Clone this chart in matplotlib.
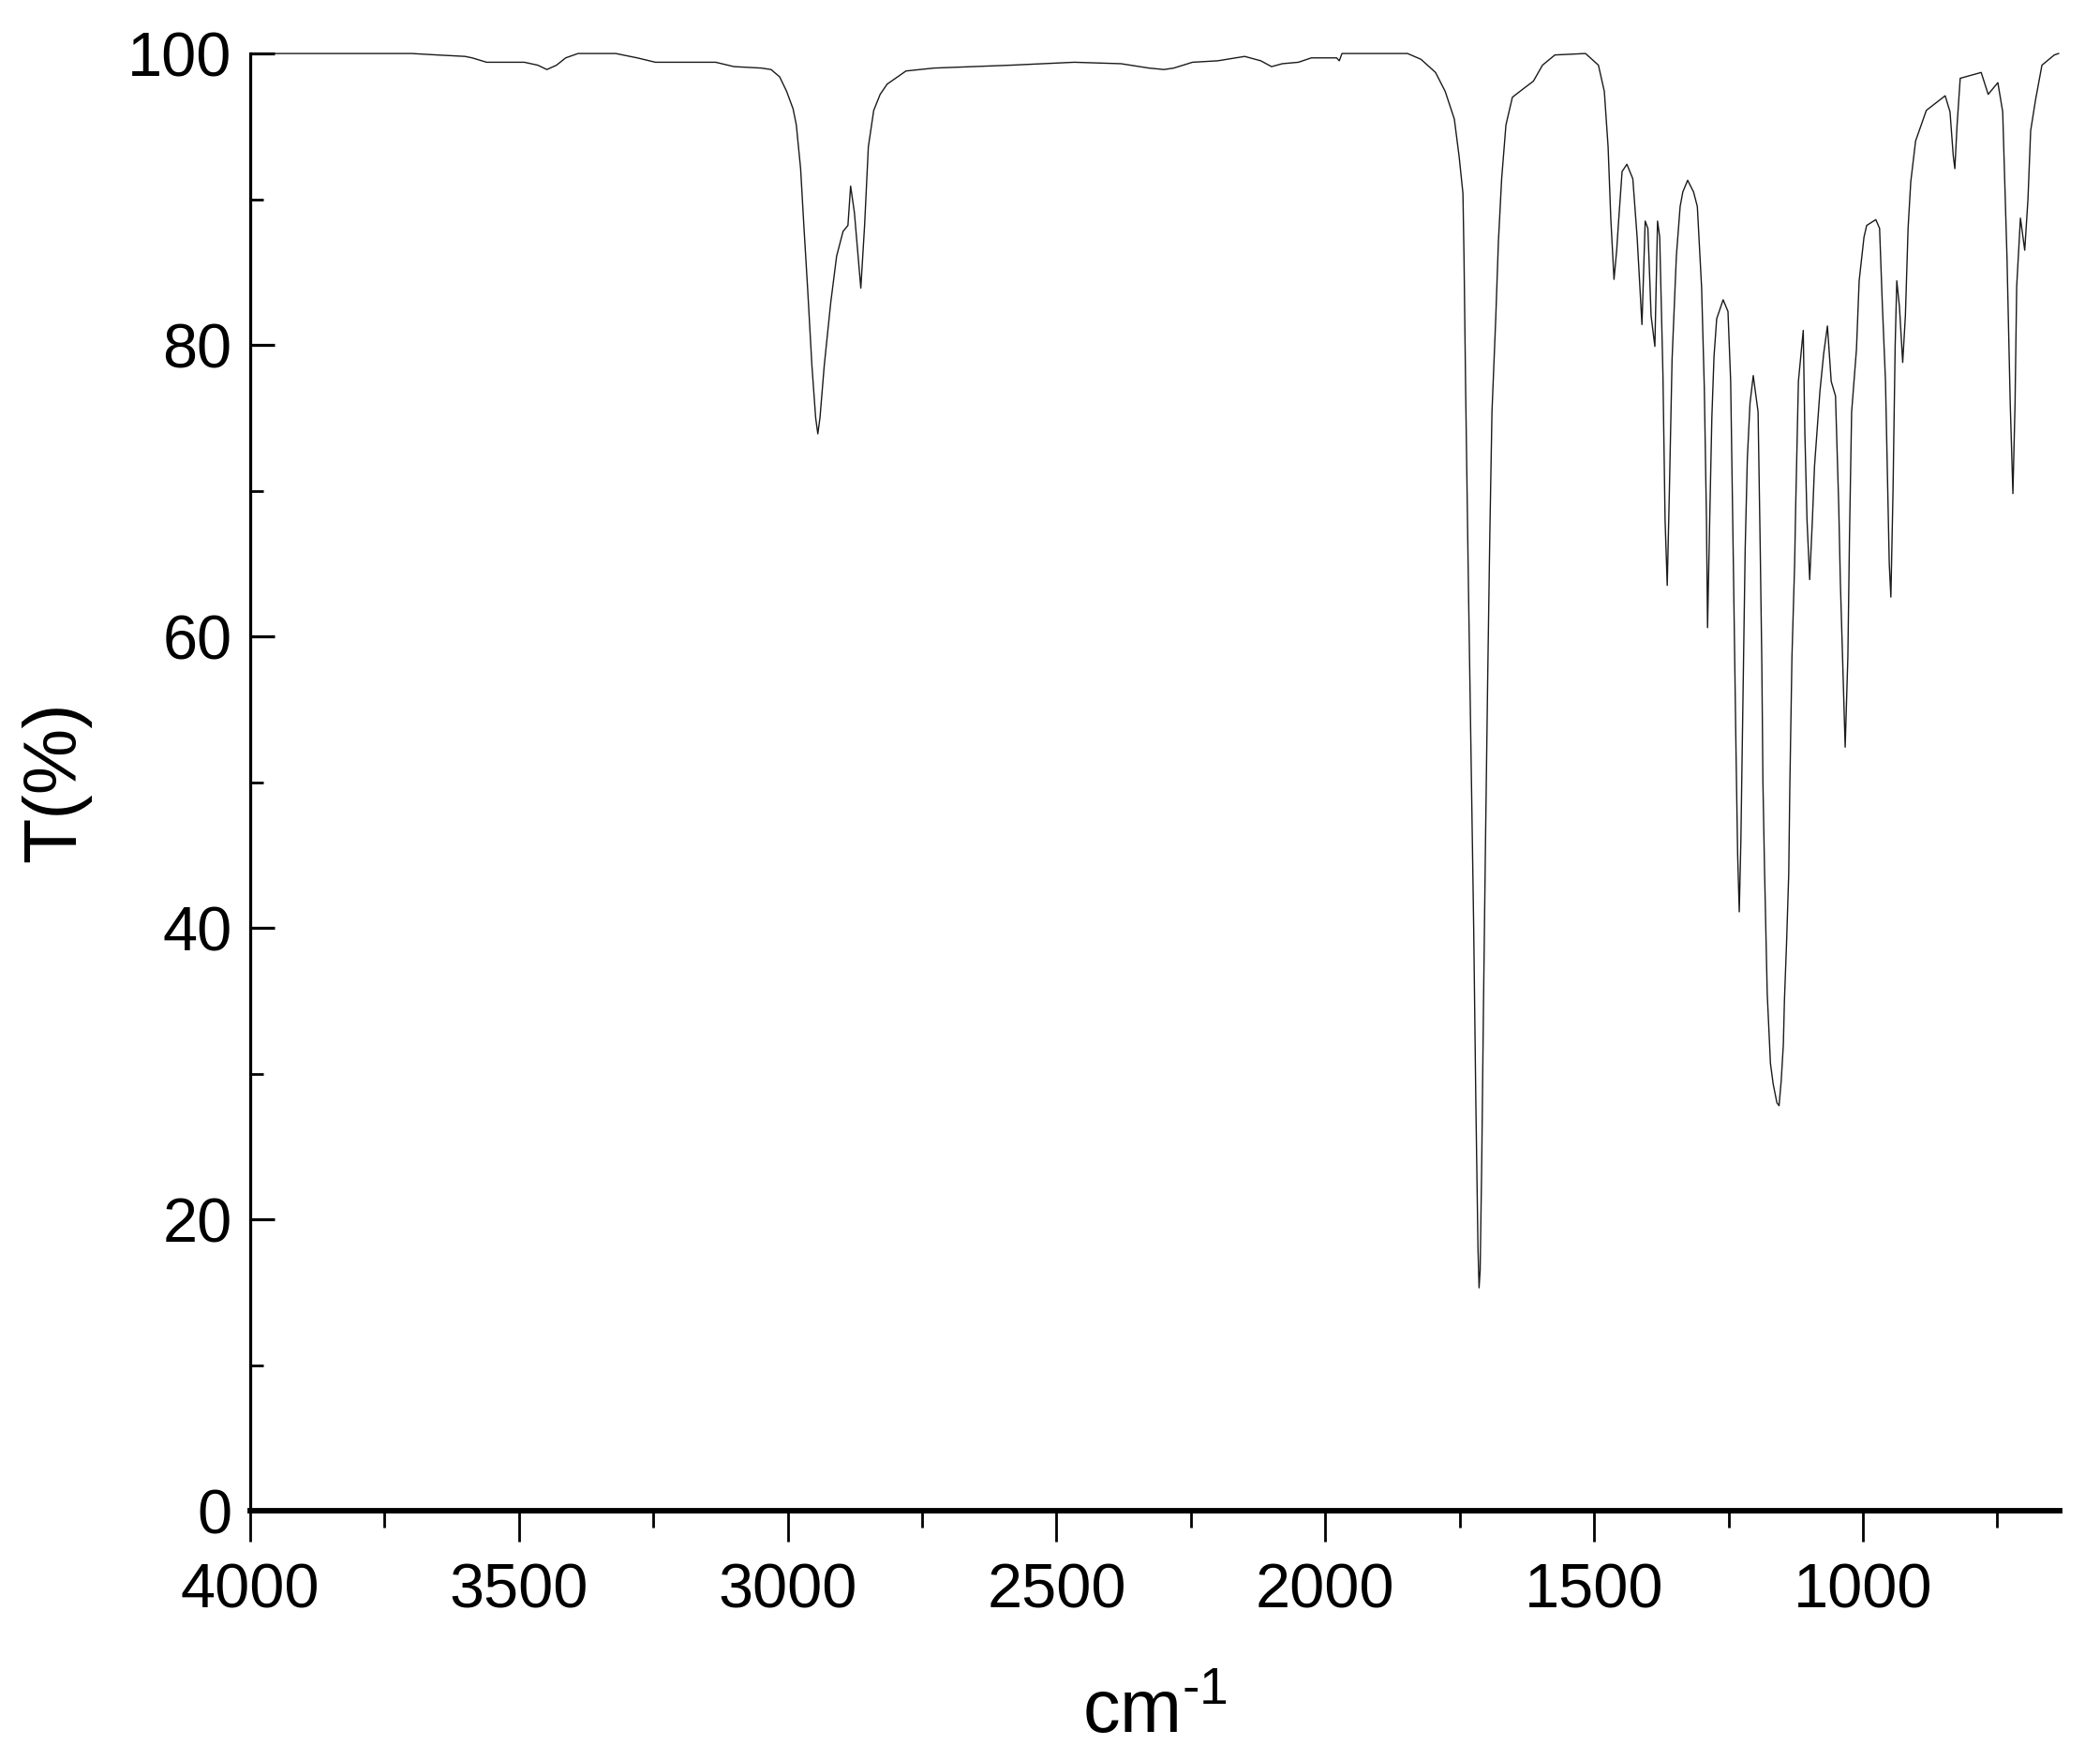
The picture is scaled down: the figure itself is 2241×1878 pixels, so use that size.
import numpy as np
import matplotlib
matplotlib.use("Agg")
import matplotlib.pyplot as plt
from matplotlib.ticker import MultipleLocator, FixedLocator

plt.rcParams['font.family'] = ['Liberation Sans', 'DejaVu Sans']
plt.rcParams['mathtext.fontset'] = 'custom'
plt.rcParams['mathtext.rm'] = 'Liberation Sans'

# FTIR spectrum, points (wavenumber in cm-1, transmittance in %)
wavenumber = [4000, 3700, 3652, 3600, 3587, 3560, 3490, 3465, 3448, 3430, 3413, 3390, 3320, 3280,
              3246, 3134, 3100, 3049, 3031, 3015, 3002, 2990, 2984, 2976, 2970, 2963, 2955, 2948,
              2944, 2940, 2932, 2920, 2909, 2897, 2888, 2883, 2876, 2869, 2864, 2857, 2850, 2840,
              2828, 2815, 2780, 2728, 2584, 2467, 2380, 2328, 2300, 2282, 2247, 2200, 2150, 2120,
              2100, 2080, 2050, 2026, 1979, 1974, 1969, 1847, 1822, 1795, 1777, 1760, 1751, 1744,
              1742, 1739, 1734, 1729, 1724, 1720, 1716, 1714, 1712, 1709, 1706, 1702, 1698, 1694,
              1690, 1683, 1678, 1672, 1664, 1652, 1631, 1613, 1596, 1573, 1516, 1492, 1481, 1474,
              1469, 1463, 1458, 1455, 1448, 1439, 1428, 1420, 1411, 1405, 1400, 1394, 1387, 1382,
              1378, 1372, 1368, 1364, 1360, 1355, 1347, 1340, 1335, 1326, 1315, 1308, 1300, 1295,
              1291, 1289, 1285, 1281, 1277, 1272, 1260, 1251, 1246, 1241, 1236, 1233, 1230, 1227,
              1223, 1219, 1215, 1210, 1204, 1195, 1191, 1188, 1186, 1183, 1180, 1178, 1172, 1167,
              1160, 1156, 1152, 1148, 1146, 1142, 1138, 1136, 1132, 1127, 1125, 1120, 1111, 1108,
              1104, 1099, 1094, 1090, 1080, 1073, 1066, 1059, 1051, 1045, 1042, 1033, 1028, 1025,
              1021, 1012, 1007, 998, 993, 976, 969, 964, 958, 951, 948, 944, 940, 937, 932, 926,
              921, 916, 911, 902, 882, 847, 838, 832, 829, 825, 819, 780, 767, 749, 740, 732, 726,
              721, 717, 714, 707, 699, 693, 688, 679, 667, 644, 636]
transmittance = [100, 100, 99.9, 99.8, 99.7, 99.4, 99.4, 99.2, 98.9, 99.2, 99.7, 100, 100, 99.7,
                 99.4, 99.4, 99.1, 99.0, 98.9, 98.4, 97.4, 96.2, 95.1, 92.1, 88.2, 83.9, 78.6, 75.0,
                 73.9, 75.0, 78.6, 82.9, 86.1, 87.8, 88.2, 90.9, 89.1, 86.1, 83.9, 88.2, 93.6, 96.1,
                 97.2, 97.9, 98.8, 99.0, 99.2, 99.4, 99.3, 99.0, 98.9, 99.0, 99.4, 99.5, 99.8, 99.5,
                 99.1, 99.3, 99.4, 99.7, 99.7, 99.5, 100, 100, 99.6, 98.7, 97.4, 95.5, 92.9, 90.4,
                 86, 77, 64, 52, 40, 28, 18, 15.3, 16.5, 24, 34, 46, 57, 67,
                 75.4, 81.8, 87.1, 91.4, 95.1, 97.0, 97.6, 98.1, 99.2, 99.9, 100, 99.2, 97.4, 93.6,
                 88.7, 84.5, 86.5, 88.2, 91.9, 92.4, 91.4, 87.4, 81.4, 88.5, 88, 82, 79.9, 88.5,
                 87.4, 78, 68, 63.5, 70, 79, 86.1, 89.5, 90.5, 91.3, 90.5, 89.5, 83.9, 77,
                 68, 60.6, 68, 75, 79.2, 81.8, 83.1, 82.3, 77.5, 65, 52, 45, 41.1, 46,
                 56, 66, 72.2, 76, 77.9, 75.4, 66, 58, 50, 44, 39, 35.5, 30.7, 29.3,
                 28.0, 27.8, 29.5, 32, 35, 39, 43.7, 49.6, 58.6, 65, 69, 77.5, 81, 74,
                 68, 63.9, 68, 71.7, 76.8, 79.4, 81.3, 77.5, 76.5, 69, 63.8, 52.4, 58.6, 66.8,
                 75.4, 79.7, 84.4, 87.4, 88.2, 88.6, 88, 82.9, 77.5, 65, 62.7, 70, 80, 84.4, 82.6, 78.8,
                 82, 88, 91.2, 94, 96.1, 97.1, 96, 93, 92.1, 95, 98.3, 98.7, 97.2, 98, 96, 86, 76,
                 69.8, 76, 84, 88.7, 86.5, 90, 94.7, 96.8, 99.2, 99.9, 100]

x_major = [4000, 3500, 3000, 2500, 2000, 1500, 1000]
x_minor = [3750, 3250, 2750, 2250, 1750, 1250, 750]
y_major = [0, 20, 40, 60, 80, 100]

fig = plt.figure(figsize=(22.41, 18.78), dpi=100)
ax = fig.add_axes([0.1191, 0.1416, 0.8617, 0.8280])

ax.plot(wavenumber, transmittance, color='#1a1a1a', lw=1.0, clip_on=False)

ax.set_xlim(4000, 634)
ax.set_ylim(0, 100)

ax.xaxis.set_major_locator(FixedLocator(x_major))
ax.xaxis.set_minor_locator(FixedLocator(x_minor))
ax.yaxis.set_major_locator(FixedLocator(y_major))
ax.yaxis.set_minor_locator(MultipleLocator(10))

ax.spines['top'].set_visible(False)
ax.spines['right'].set_visible(False)
ax.spines['left'].set_linewidth(2.3)
ax.spines['bottom'].set_linewidth(4.2)

ax.tick_params(axis='x', which='major', direction='out', length=24, width=2, pad=16, labelsize=48)
ax.tick_params(axis='x', which='minor', direction='out', length=13, width=2)
ax.tick_params(axis='y', which='major', direction='in', length=19, width=2.3, pad=14, labelsize=48)
ax.tick_params(axis='y', which='minor', direction='in', length=10, width=2)

ax.set_xlabel(r'cm$^{\mathregular{\text{-}1}}$', fontsize=57, labelpad=44)
ax.set_ylabel('T(%)', fontsize=57, labelpad=28)

fig.savefig('out.png', dpi=100)
